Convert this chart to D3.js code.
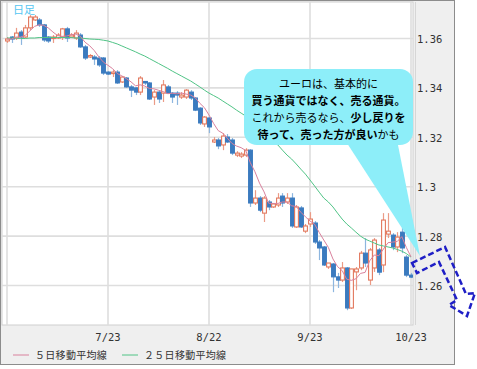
<!DOCTYPE html>
<html><head><meta charset="utf-8">
<script src="https://cdn.jsdelivr.net/npm/d3@7"></script>
<style>body{margin:0;background:#fff} svg{display:block}</style>
</head><body>
<script>
// ---- data (EUR/USD daily, 2014-06-23 .. 2014-10-23) ----
const opens = [1.3590,1.3606,1.3602,1.3626,1.3606,1.3643,1.3675,1.3675,1.3655,1.3606,
1.3600,1.3602,1.3606,1.3639,1.3606,1.3602,1.3614,1.3566,1.3525,1.3525,
1.3521,1.3521,1.3464,1.3458,1.3464,1.3424,1.3440,1.3404,1.3400,1.3383,
1.3426,1.3420,1.3363,1.3383,1.3379,1.3404,1.3379,1.3379,1.3363,1.3363,
1.3383,1.3359,1.3318,1.3254,1.3278,1.3181,1.3189,1.3169,1.3201,1.3189,
1.3128,1.3124,1.3128,1.3148,1.2934,1.2954,1.2893,1.2938,1.2918,1.2926,
1.2962,1.2938,1.2954,1.2837,1.2914,1.2820,1.2849,1.2853,1.2776,1.2756,
1.2675,1.2687,1.2635,1.2622,1.2671,1.2509,1.2655,1.2671,1.2731,1.2622,
1.2671,1.2744,1.2683,1.2808,1.2804,1.2756,1.2816,1.2715,1.2642];
const highs = [1.3606,1.3610,1.3643,1.3634,1.3655,1.3695,1.3695,1.3683,1.3659,1.3610,
1.3614,1.3622,1.3643,1.3647,1.3622,1.3634,1.3622,1.3574,1.3537,1.3533,
1.3529,1.3525,1.3468,1.3472,1.3472,1.3448,1.3444,1.3412,1.3404,1.3448,
1.3428,1.3424,1.3391,1.3391,1.3432,1.3412,1.3383,1.3387,1.3383,1.3395,
1.3391,1.3363,1.3322,1.3286,1.3282,1.3201,1.3197,1.3217,1.3213,1.3197,
1.3144,1.3140,1.3156,1.3152,1.2986,1.2962,1.2962,1.2946,1.2934,1.2974,
1.2974,1.2974,1.2974,1.2926,1.2922,1.2849,1.2897,1.2861,1.2784,1.2760,
1.2691,1.2691,1.2651,1.2695,1.2675,1.2667,1.2675,1.2740,1.2792,1.2752,
1.2792,1.2752,1.2893,1.2893,1.2812,1.2816,1.2833,1.2723,1.2651];
const lows = [1.3582,1.3582,1.3594,1.3574,1.3602,1.3634,1.3671,1.3647,1.3586,1.3582,
1.3582,1.3598,1.3594,1.3586,1.3602,1.3594,1.3562,1.3513,1.3521,1.3493,
1.3485,1.3452,1.3452,1.3444,1.3416,1.3420,1.3400,1.3363,1.3371,1.3371,
1.3412,1.3351,1.3331,1.3339,1.3343,1.3375,1.3339,1.3331,1.3355,1.3355,
1.3351,1.3306,1.3250,1.3242,1.3217,1.3177,1.3152,1.3148,1.3177,1.3128,
1.3120,1.3116,1.3120,1.2918,1.2926,1.2897,1.2857,1.2905,1.2914,1.2918,
1.2918,1.2930,1.2833,1.2833,1.2833,1.2812,1.2837,1.2768,1.2703,1.2679,
1.2667,1.2573,1.2590,1.2614,1.2500,1.2505,1.2581,1.2662,1.2675,1.2602,
1.2655,1.2642,1.2654,1.2792,1.2743,1.2735,1.2731,1.2634,1.2630];
const closes = [1.3598,1.3598,1.3622,1.3606,1.3643,1.3687,1.3687,1.3655,1.3594,1.3590,
1.3606,1.3614,1.3639,1.3602,1.3614,1.3622,1.3566,1.3521,1.3531,1.3517,
1.3493,1.3460,1.3456,1.3464,1.3420,1.3444,1.3404,1.3391,1.3383,1.3440,
1.3420,1.3355,1.3383,1.3355,1.3412,1.3379,1.3363,1.3371,1.3371,1.3391,
1.3359,1.3310,1.3258,1.3282,1.3242,1.3189,1.3165,1.3205,1.3181,1.3136,
1.3136,1.3132,1.3148,1.2934,1.2954,1.2905,1.2954,1.2918,1.2930,1.2954,
1.2934,1.2954,1.2841,1.2918,1.2837,1.2841,1.2869,1.2776,1.2752,1.2683,
1.2691,1.2635,1.2622,1.2671,1.2509,1.2667,1.2667,1.2731,1.2691,1.2744,
1.2784,1.2654,1.2865,1.2820,1.2756,1.2796,1.2752,1.2642,1.2634];
// 25-day moving average
const ma25 = [1.3602,1.3602,1.3602,1.3600,1.3600,1.3602,1.3602,1.3604,1.3604,1.3604,
1.3604,1.3604,1.3604,1.3604,1.3604,1.3602,1.3602,1.3600,1.3598,1.3597,
1.3596,1.3593,1.3590,1.3584,1.3578,1.3570,1.3562,1.3554,1.3546,1.3537,
1.3529,1.3519,1.3509,1.3499,1.3489,1.3479,1.3468,1.3458,1.3448,1.3438,
1.3428,1.3416,1.3404,1.3391,1.3379,1.3369,1.3359,1.3347,1.3335,1.3323,
1.3310,1.3298,1.3286,1.3270,1.3254,1.3238,1.3221,1.3201,1.3185,1.3169,
1.3148,1.3128,1.3112,1.3092,1.3071,1.3051,1.3027,1.3003,1.2978,1.2954,
1.2938,1.2918,1.2893,1.2869,1.2849,1.2833,1.2816,1.2800,1.2788,1.2780,
1.2772,1.2764,1.2760,1.2756,1.2752,1.2746,1.2739,1.2729,1.2715];
const yTicks = [1.26,1.28,1.30,1.32,1.34,1.36];
const yTickLabels = ["1.26","1.28","1.3","1.32","1.34","1.36"];
const xTickDates = ["2014-06-23","2014-07-23","2014-08-22","2014-09-23","2014-10-23"];
const xTickLabels = ["","7/23","8/22","9/23","10/23"];
const legendLabels = ["５日移動平均線","２５日移動平均線"];
const periodLabel = "日足";
const calloutLines = [
  [["ユーロは、基本的に",false]],
  [["買う通貨ではなく、売る通貨。",true]],
  [["これから売るなら、",false],["少し戻りを",true]],
  [["待って、売った方が良い",true],["かも",false]]
];

// ---- layout ----
const W = 477, H = 369;
const plot = {x0:2, x1:413, y0:2, y1:325};
const colors = {up:"#e2775c", upWick:"#eb9b86", down:"#3b7bbf", downWick:"#8db6df",
  ma5:"#d9819d", ma25:"#50c486", grid:"#dedede", frameBg:"#efefef", text:"#333"};

const fmt = d3.utcFormat("%Y-%m-%d");
const dates = d3.utcDay.range(new Date(Date.UTC(2014,5,23)), new Date(Date.UTC(2014,9,24)))
  .filter(d => d.getUTCDay() !== 0 && d.getUTCDay() !== 6).map(fmt);
const data = dates.map((d,i) => ({date:d, o:opens[i], h:highs[i], l:lows[i], c:closes[i], ma25:ma25[i],
  ma5: d3.mean(closes.slice(Math.max(0,i-4), i+1))}));

const x = d3.scalePoint().domain(dates).range([7, 411]);
const y = d3.scaleLinear().domain([1.26, 1.36]).range([285.5, 38.5]);

const svg = d3.select("body").append("svg").attr("width", W).attr("height", H);
svg.append("rect").attr("x",0.5).attr("y",0.5).attr("width",454).attr("height",364)
  .attr("fill",colors.frameBg).attr("stroke","#8c8c8c");
svg.append("rect").attr("x",plot.x0).attr("y",plot.y0).attr("width",plot.x1-plot.x0).attr("height",plot.y1-plot.y0)
  .attr("fill","#fff").attr("stroke","#cfcfcf");
svg.append("line").attr("x1",415.5).attr("x2",415.5).attr("y1",plot.y0).attr("y2",plot.y1).attr("stroke","#d6d6d6");

svg.append("clipPath").attr("id","clip").append("rect")
  .attr("x",plot.x0).attr("y",plot.y0).attr("width",plot.x1-plot.x0).attr("height",plot.y1-plot.y0);
const g = svg.append("g").attr("clip-path","url(#clip)");

// grid
g.selectAll(".hg").data(yTicks).join("line").attr("x1",plot.x0).attr("x2",plot.x1)
  .attr("y1",d=>y(d)).attr("y2",d=>y(d)).attr("stroke",colors.grid).attr("stroke-width",1.6);
g.selectAll(".vg").data(xTickDates).join("line").attr("x1",d=>x(d)).attr("x2",d=>x(d))
  .attr("y1",plot.y0).attr("y2",plot.y1).attr("stroke",colors.grid).attr("stroke-width",1.6);

// candles
const bw = 3.8;
const cg = g.selectAll(".c").data(data).join("g");
cg.append("line").attr("x1",d=>Math.round(x(d.date))+0.5).attr("x2",d=>Math.round(x(d.date))+0.5)
  .attr("y1",d=>y(d.h)).attr("y2",d=>y(d.l))
  .attr("stroke",d=>d.c>=d.o?colors.upWick:colors.downWick).attr("stroke-width",1.2);
cg.append("rect").attr("x",d=>Math.round(x(d.date))+0.5-bw/2)
  .attr("y",d=>y(Math.max(d.o,d.c))).attr("width",bw)
  .attr("height",d=>Math.max(1.5,Math.abs(y(d.o)-y(d.c))))
  .attr("fill",d=>d.c>=d.o?"#fff":colors.down)
  .attr("stroke",d=>d.c>=d.o?colors.up:colors.down).attr("stroke-width",1.1);

// moving averages
g.append("path").datum(data).attr("fill","none").attr("stroke",colors.ma25).attr("stroke-width",1)
  .attr("d",d3.line().x(d=>x(d.date)).y(d=>y(d.ma25)));
g.append("path").datum(data).attr("fill","none").attr("stroke",colors.ma5).attr("stroke-width",1)
  .attr("d",d3.line().x(d=>x(d.date)).y(d=>y(d.ma5)));

// axes labels
svg.selectAll(".yl").data(yTicks).join("text").attr("x",417).attr("y",d=>y(d)+4.5)
  .attr("font-family","DejaVu Sans Mono").attr("font-size",10.5).attr("fill",colors.text)
  .text((d,i)=>yTickLabels[i]);
svg.selectAll(".xl").data(xTickDates).join("text").attr("x",d=>x(d)).attr("y",341)
  .attr("text-anchor","middle").attr("font-family","DejaVu Sans Mono").attr("font-size",10.5)
  .attr("fill",colors.text).text((d,i)=>xTickLabels[i]);

// period label
svg.append("text").attr("x",13).attr("y",14).attr("font-family","Noto Sans CJK JP").attr("font-size",11)
  .attr("fill","#55c6f2").text(periodLabel);

// legend
const lg = svg.selectAll(".lg").data(legendLabels).join("g")
  .attr("transform",(d,i)=>`translate(${[13,122][i]},355)`);
lg.append("line").attr("x1",0).attr("x2",16).attr("stroke",(d,i)=>[colors.ma5,colors.ma25][i]);
lg.append("text").attr("x",22).attr("y",4).attr("font-family","Noto Sans CJK JP").attr("font-size",10)
  .attr("letter-spacing",0.3).attr("fill",colors.text).text(d=>d);

// callout
const cyan = "#8deef9";
svg.append("path").attr("d","M345,140 L397,140 L420,256 Z").attr("fill",cyan);
svg.append("rect").attr("x",244).attr("y",69).attr("width",169).attr("height",76).attr("rx",13).attr("fill",cyan);
const ct = svg.selectAll(".ct").data(calloutLines).join("text")
  .attr("x",328.5).attr("y",(d,i)=>87.5+i*17.3).attr("text-anchor","middle")
  .attr("font-family","Noto Sans CJK JP").attr("font-size",11).attr("fill","#000");
ct.selectAll("tspan").data(d=>d).join("tspan").attr("font-weight",d=>d[1]?"bold":"normal").text(d=>d[0]);

// dashed arrow
svg.append("path").attr("d","M412,263 L445,247 L466,294 L475,293 L467,316 L449,305 L457,300 L439,262 L417,273 Z")
  .attr("fill","none").attr("stroke","#1f1fc6").attr("stroke-width",2.5).attr("stroke-dasharray","6,3")
  .attr("stroke-linejoin","miter");
</script>
</body></html>
